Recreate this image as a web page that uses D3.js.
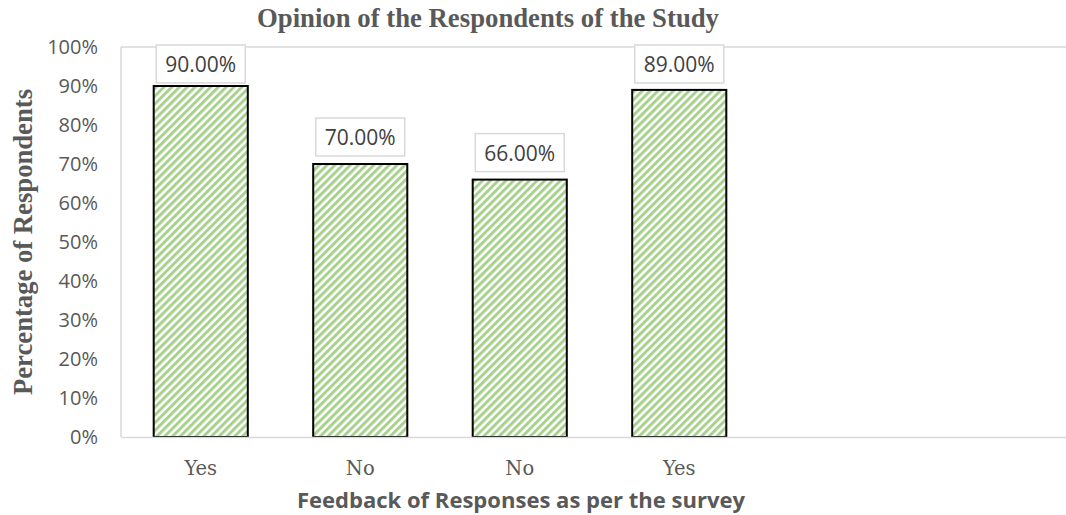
<!DOCTYPE html>
<html>
<head>
<meta charset="utf-8">
<script src="https://cdn.jsdelivr.net/npm/d3@7"></script>
<style>
  html, body { margin: 0; padding: 0; background: #fff; }
  svg { display: block; }
</style>
</head>
<body>
<svg id="chart" width="1066" height="515"></svg>
<script>
// ---- data ----
const categories = ["Yes", "No", "No", "Yes", "", " "];
const values = [0.90, 0.70, 0.66, 0.89, null, null];
const dataLabels = ["90.00%", "70.00%", "66.00%", "89.00%", null, null];
const yTicks = [0, 0.1, 0.2, 0.3, 0.4, 0.5, 0.6, 0.7, 0.8, 0.9, 1.0];
const titleText = "Opinion of the Respondents of the Study";
const xTitleText = "Feedback of Responses as per the survey";
const yTitleText = "Percentage of Respondents";

// ---- layout ----
const W = 1066, H = 515;
const plot = { left: 121, right: 1078, top: 47, bottom: 437 };
const svg = d3.select("#chart");

const x = d3.scaleBand()
  .domain(d3.range(categories.length))
  .range([plot.left, plot.right])
  .paddingInner(0.41)
  .paddingOuter(0.205);
const y = d3.scaleLinear().domain([0, 1]).range([plot.bottom, plot.top]);

// hatch pattern
const defs = svg.append("defs");
const pat = defs.append("pattern")
  .attr("id", "hatch")
  .attr("patternUnits", "userSpaceOnUse")
  .attr("width", 5.5).attr("height", 5.5)
  .attr("patternTransform", "rotate(45)");
pat.append("rect").attr("width", 5.5).attr("height", 5.5).attr("fill", "#ffffff");
pat.append("rect").attr("width", 3).attr("height", 5.5).attr("fill", "#a9d18e");

function fitWidth(sel, target) {
  const node = sel.node();
  let fs = parseFloat(sel.attr("font-size"));
  for (let i = 0; i < 3; i++) {
    const w = node.getComputedTextLength();
    if (w > 0) fs = fs * target / w;
    sel.attr("font-size", fs);
  }
}

// plot area border: top, left, bottom
svg.append("line")
  .attr("x1", plot.left).attr("x2", plot.right)
  .attr("y1", y(1)).attr("y2", y(1))
  .attr("stroke", "#d9d9d9").attr("stroke-width", 1.5);
svg.append("line")
  .attr("x1", plot.left).attr("x2", plot.left)
  .attr("y1", y(1)).attr("y2", y(0))
  .attr("stroke", "#d9d9d9").attr("stroke-width", 1.5);

// bars
const idx = d3.range(categories.length).filter(i => values[i] != null);
svg.append("g").selectAll("rect")
  .data(idx)
  .join("rect")
  .attr("x", i => x(i))
  .attr("y", i => y(values[i]))
  .attr("width", x.bandwidth())
  .attr("height", i => y(0) - y(values[i]))
  .attr("fill", "url(#hatch)")
  .attr("stroke", "#000")
  .attr("stroke-width", 2);

// bottom axis line
const xAxis = svg.append("g")
  .attr("transform", `translate(0,${y(0)})`)
  .call(d3.axisBottom(x).tickSize(0).tickFormat(i => categories[i]));
xAxis.select(".domain").attr("stroke", "#d9d9d9").attr("stroke-width", 1.5);
xAxis.selectAll("text")
  .attr("font-family", "'DejaVu Serif', 'Liberation Serif', serif")
  .attr("font-size", 19.5)
  .attr("fill", "#595959")
  .attr("dy", null)
  .attr("y", 38);

// y axis labels
const yAxis = svg.append("g")
  .attr("transform", `translate(${plot.left},0)`)
  .call(d3.axisLeft(y).tickValues(yTicks).tickSize(0).tickPadding(23).tickFormat(d3.format(".0%")));
yAxis.select(".domain").remove();
yAxis.selectAll("text")
  .attr("font-family", "'Open Sans', sans-serif")
  .attr("font-size", 20)
  .attr("fill", "#595959");

// data labels
const lbl = svg.append("g").selectAll("g")
  .data(idx)
  .join("g")
  .attr("transform", i => {
    const top = Math.max(y(values[i]) - 46, 45);
    return `translate(${x(i) + x.bandwidth() / 2},${top})`;
  });
lbl.append("rect")
  .attr("x", -44.5).attr("y", 0)
  .attr("width", 89).attr("height", 38)
  .attr("fill", "#fff")
  .attr("stroke", "#d9d9d9")
  .attr("stroke-width", 1.5);
lbl.append("text")
  .attr("x", 0).attr("y", 19)
  .attr("text-anchor", "middle")
  .attr("dominant-baseline", "central")
  .attr("font-family", "'Open Sans', sans-serif")
  .attr("font-size", 21)
  .attr("fill", "#404040")
  .text(i => dataLabels[i]);

// chart title
const t = svg.append("text")
  .attr("x", 488).attr("y", 27)
  .attr("text-anchor", "middle")
  .attr("font-family", "'Liberation Serif', 'Times New Roman', serif")
  .attr("font-weight", "bold")
  .attr("font-size", 24)
  .attr("fill", "#595959")
  .text(titleText);
fitWidth(t, 462);

// x axis title
const xt = svg.append("text")
  .attr("x", 521).attr("y", 508)
  .attr("text-anchor", "middle")
  .attr("font-family", "'Open Sans', sans-serif")
  .attr("font-weight", "bold")
  .attr("font-size", 20)
  .attr("fill", "#595959")
  .text(xTitleText);
fitWidth(xt, 448);

// y axis title
const yt = svg.append("text")
  .attr("transform", "translate(32,242) rotate(-90)")
  .attr("text-anchor", "middle")
  .attr("font-family", "'Liberation Serif', 'Times New Roman', serif")
  .attr("font-weight", "bold")
  .attr("font-size", 24)
  .attr("fill", "#595959")
  .text(yTitleText);
fitWidth(yt, 306);
</script>
</body>
</html>
